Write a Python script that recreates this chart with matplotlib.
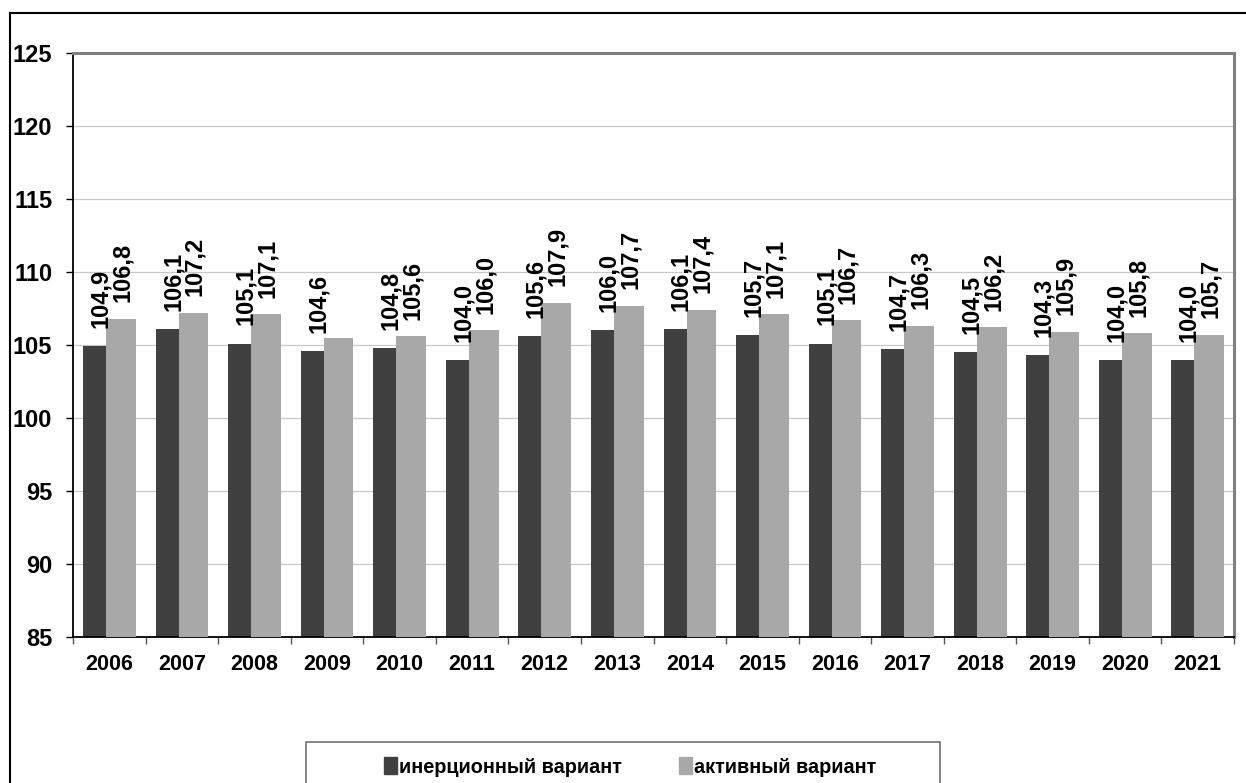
import matplotlib
matplotlib.use('Agg')
import matplotlib.pyplot as plt
from matplotlib.patches import Rectangle, Patch
from matplotlib.lines import Line2D
import numpy as np

plt.rcParams['font.family'] = ['Liberation Sans', 'DejaVu Sans']
plt.rcParams['font.weight'] = 'bold'

DARK = '#404040'; LIGHT = '#a8a8a8'; GRID = '#c8c8c8'; FRAME = '#808080'

years = ['2006', '2007', '2008', '2009', '2010', '2011', '2012', '2013',
         '2014', '2015', '2016', '2017', '2018', '2019', '2020', '2021']
inertial = [104.9, 106.1, 105.1, 104.6, 104.8, 104.0, 105.6, 106.0,
            106.1, 105.7, 105.1, 104.7, 104.5, 104.3, 104.0, 104.0]
active = [106.8, 107.2, 107.1, 105.5, 105.6, 106.0, 107.9, 107.7,
          107.4, 107.1, 106.7, 106.3, 106.2, 105.9, 105.8, 105.7]
active_shown = [True, True, True, False, True, True, True, True,
                True, True, True, True, True, True, True, True]
series_names = ['инерционный вариант', 'активный вариант']

W, H = 1246, 783
fig = plt.figure(figsize=(W/100, H/100), dpi=100)
ax = fig.add_axes([73/W, 1-637/H, (1234-73)/W, (637-53)/H])

x = np.arange(len(years))
ax.bar(x - 0.362, inertial, width=0.41, align='edge', color=DARK, zorder=2)
ax.bar(x - 0.045, active, width=0.41, align='edge', color=LIGHT, zorder=3)

fmt = lambda v: f'{v:.1f}'.replace('.', ',')
for i in range(len(years)):
    ax.annotate(fmt(inertial[i]), (x[i] - 0.16, inertial[i]), xytext=(2, 13),
                textcoords='offset points', rotation=90, ha='center', va='bottom',
                fontsize=17, fontweight='bold', zorder=4)
    if active_shown[i]:
        ax.annotate(fmt(active[i]), (x[i] + 0.16, active[i]), xytext=(1, 12),
                    textcoords='offset points', rotation=90, ha='center', va='bottom',
                    fontsize=17, fontweight='bold', zorder=4)

ax.set_ylim(85, 125)
ax.set_xlim(-0.5, len(years) - 0.5)
ax.set_yticks(range(85, 126, 5))
ax.tick_params(axis='y', labelsize=17, length=5, width=1, pad=10)
ax.set_xticks(x)
ax.set_xticklabels(years, fontsize=15.5, fontweight='bold')
ax.tick_params(axis='x', length=0, pad=12)
ax.set_xticks(np.arange(len(years) + 1) - 0.5, minor=True)
ax.tick_params(axis='x', which='minor', length=5, width=1, color='#555555')
for lbl in ax.get_yticklabels():
    lbl.set_fontweight('bold')

ax.grid(axis='y', color=GRID, lw=0.9, zorder=0)
ax.set_axisbelow(True)
ax.spines['left'].set_color('black'); ax.spines['left'].set_linewidth(1.3)
ax.spines['bottom'].set_color('black'); ax.spines['bottom'].set_linewidth(1.3)
ax.spines['top'].set_color(FRAME); ax.spines['top'].set_linewidth(2.2)
ax.spines['right'].set_color(FRAME); ax.spines['right'].set_linewidth(2.2)

# outer chart border (only left and top visible in crop)
fig.add_artist(Line2D([10/W, 10/W], [0, 1-13/H], color='black', lw=1.5, transform=fig.transFigure))
fig.add_artist(Line2D([10/W, 1], [1-13/H, 1-13/H], color='black', lw=1.5, transform=fig.transFigure))

# legend box (runs off the bottom edge)
fig.add_artist(Rectangle((306/W, -0.02), (940-306)/W, 0.02 + 1-742/H, fill=False,
                         ec='#707070', lw=1.2, transform=fig.transFigure))
handles = [Patch(fc=DARK, ec=DARK), Patch(fc=LIGHT, ec=LIGHT)]
fig.legend(handles, series_names, loc='center', bbox_to_anchor=(630/W, 1-767/H), ncol=2,
           frameon=False, prop={'size': 14.3, 'weight': 'bold'}, handlelength=0.65,
           handleheight=0.9, handletextpad=0.1, columnspacing=2.9)

plt.savefig('out.png', dpi=100, facecolor='white')
plt.close()
